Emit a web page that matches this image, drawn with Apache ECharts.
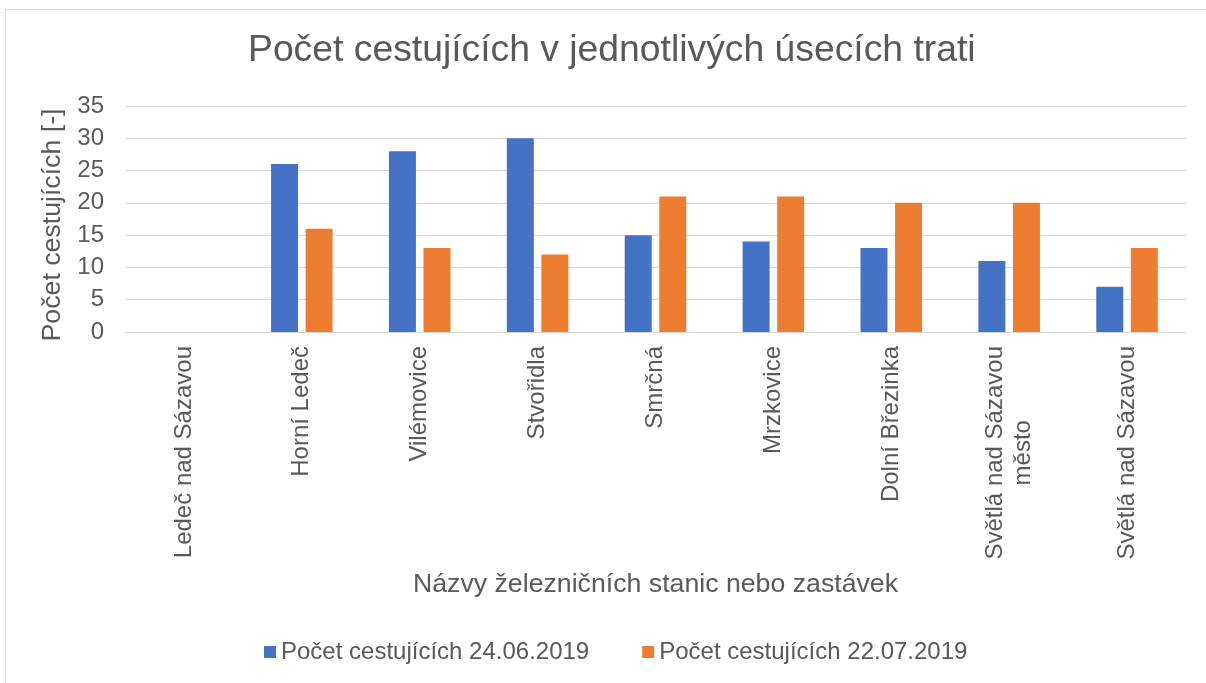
<!DOCTYPE html>
<html>
<head>
<meta charset="utf-8">
<script src="https://cdn.jsdelivr.net/npm/echarts@6/dist/echarts.min.js"></script>
<style>
  html, body { margin: 0; padding: 0; background: #fff; }
  #main { width: 1206px; height: 683px; }
</style>
</head>
<body>
<div id="main"></div>
<script>
// data
var stanice = ['Ledeč nad Sázavou', 'Horní Ledeč', 'Vilémovice', 'Stvořidla', 'Smrčná',
    'Mrzkovice', 'Dolní Březinka', 'Světlá nad Sázavou\nměsto', 'Světlá nad Sázavou'];
var den1 = [0, 26, 28, 30, 15, 14, 13, 11, 7];
var den2 = [0, 16, 13, 12, 21, 21, 20, 20, 13];
var nazevSerie1 = 'Počet cestujících 24.06.2019';
var nazevSerie2 = 'Počet cestujících 22.07.2019';

var sedy = '#595959';
var myChart = echarts.init(document.getElementById('main'));

var option = {
    backgroundColor: '#fff',
    textStyle: { fontFamily: 'Liberation Sans, Arial, sans-serif' },
    title: {
        text: 'Počet cestujících v jednotlivých úsecích trati',
        left: 243,
        top: 27,
        textStyle: { color: sedy, fontSize: 37.3, fontWeight: 'normal' }
    },
    graphic: [{
        type: 'rect',
        shape: { x: 5.5, y: 9.5, width: 1210, height: 700 },
        style: { fill: 'none', stroke: '#d9d9d9', lineWidth: 1 },
        silent: true
    }],
    legend: {
        left: 259,
        top: 635,
        itemWidth: 12,
        itemHeight: 12,
        itemGap: 53,
        icon: 'rect',
        textStyle: { color: sedy, fontSize: 24 },
        data: [nazevSerie1, nazevSerie2]
    },
    grid: { left: 125, right: 20, top: 106, height: 226 },
    xAxis: {
        type: 'category',
        data: stanice,
        name: 'Názvy železničních stanic nebo zastávek',
        nameLocation: 'middle',
        nameGap: 239,
        nameTextStyle: { color: sedy, fontSize: 26.7 },
        axisLine: { lineStyle: { color: '#d9d9d9' } },
        axisTick: { show: false },
        axisLabel: {
            rotate: 90,
            interval: 0,
            margin: 14,
            color: sedy,
            fontSize: 24,
            formatter: function (v) {
                return v.split('\n').map(function (s) { return '{a|' + s + '}'; }).join('\n');
            },
            rich: { a: { align: 'center', fontSize: 24, color: sedy, lineHeight: 28 } }
        }
    },
    yAxis: {
        type: 'value',
        min: 0,
        max: 35,
        interval: 5,
        name: 'Počet cestujících [-]',
        nameLocation: 'middle',
        nameGap: 56,
        nameTextStyle: { color: sedy, fontSize: 26.7, padding: [0, 12, 0, 0] },
        axisLine: { show: false },
        axisTick: { show: false },
        axisLabel: { color: sedy, fontSize: 24, margin: 21 },
        splitLine: { lineStyle: { color: '#d9d9d9', width: 1 } }
    },
    series: [{
        name: nazevSerie1,
        type: 'bar',
        data: den1,
        barWidth: 27,
        barGap: '28%',
        itemStyle: { color: '#4472c4' }
    }, {
        name: nazevSerie2,
        type: 'bar',
        data: den2,
        barWidth: 27,
        itemStyle: { color: '#ed7d31' }
    }]
};

myChart.setOption(option);
</script>
</body>
</html>
